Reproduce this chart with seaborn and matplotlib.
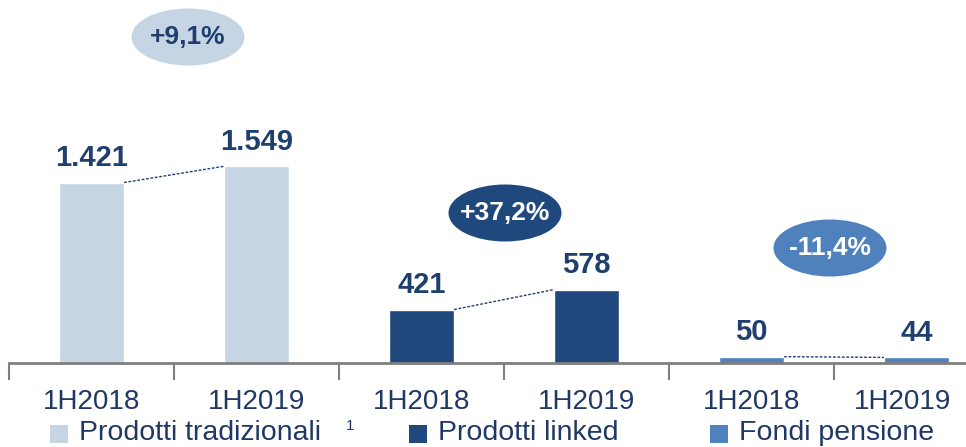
import seaborn as sns
import matplotlib.pyplot as plt
import pandas as pd
from matplotlib.patches import Ellipse, Rectangle
from matplotlib.transforms import ScaledTranslation

# data
groups = ["Prodotti tradizionali", "Prodotti linked", "Fondi pensione"]
periods = ["1H2018", "1H2019"]
tradizionali = [1421, 1549]
linked = [421, 578]
pensione = [50, 44]
value_labels = ["1.421", "1.549", "421", "578", "50", "44"]
changes = ["+9,1%", "+37,2%", "-11,4%"]

colors = ["#C6D5E4", "#1F497D", "#4F81BD"]
navy = "#1F3F6E"

rows = []
for g, vals in zip(groups, [tradizionali, linked, pensione]):
    for p, v in zip(periods, vals):
        rows.append({"slot": len(rows), "group": g, "period": p, "value": v})
df = pd.DataFrame(rows)

sns.set_style("white")
plt.rcParams["font.family"] = ["Liberation Sans", "DejaVu Sans"]

W, H = 966, 447
slot = 165.0
fig = plt.figure(figsize=(W / 100, H / 100), dpi=100)
# axes runs past the right edge like the original slide
ax = fig.add_axes([9 / W, (H - 363) / H, 6 * slot / W, 363 / H])

sns.barplot(data=df, x="slot", y="value", hue="group", dodge=False,
            palette=colors, width=0.395, saturation=1, ax=ax, legend=False)

ax.set_xlim(-0.5, 5.5)
ax.set_ylim(0, 363 / 0.127)
ax.set_xlabel("")
ax.set_ylabel("")
ax.set_yticks([])
for s in ["top", "right", "left"]:
    ax.spines[s].set_visible(False)
ax.spines["bottom"].set_color("#7F7F7F")
ax.spines["bottom"].set_linewidth(2)

ax.set_xticks(range(6))
ax.set_xticklabels(df["period"], fontsize=20, color="#1F3864")
ax.set_xticks([i - 0.5 for i in range(7)], minor=True)
ax.tick_params(axis="x", which="major", length=0, pad=19)
ax.tick_params(axis="x", which="minor", length=12, width=1.5, color="#7F7F7F",
               direction="out", bottom=True)
# last label sits a bit to the left so it fits on the slide
last = ax.get_xticklabels()[-1]
last.set_transform(last.get_transform() + ScaledTranslation(-14 / 100, 0, fig.dpi_scale_trans))

vals = df["value"].tolist()
bw = 0.395 / 2
for i, (v, lab) in enumerate(zip(vals, value_labels)):
    ax.annotate(lab, (i, v), xytext=(0, 12), textcoords="offset points",
                ha="center", va="baseline", fontsize=21, fontweight="bold",
                color=navy)

# dashed connectors between the two periods
for k in range(3):
    a, b = 2 * k, 2 * k + 1
    ax.plot([a + bw, b - bw], [vals[a], vals[b]], ls=(0, (2, 1.2)), lw=1,
            color=navy)

# growth bubbles (figure pixel coords)
bubbles = [(188, 37, colors[0], navy), (505, 213, colors[1], "white"),
           (830, 248, colors[2], "white")]
for (cx, cy, fc, tc), txt in zip(bubbles, changes):
    fig.add_artist(Ellipse((cx / W, 1 - cy / H), 113 / W, 57 / H,
                           transform=fig.transFigure, facecolor=fc,
                           edgecolor="none"))
    fig.text(cx / W, 1 - cy / H, txt, ha="center", va="center", fontsize=19,
             fontweight="bold", color=tc)

# legend drawn as in the slide
legend_x = [50, 409, 710]
for x0, g, c in zip(legend_x, groups, colors):
    fig.add_artist(Rectangle((x0 / W, 1 - 443 / H), 18 / W, 18 / H,
                             transform=fig.transFigure, facecolor=c,
                             edgecolor="none"))
    fig.text((x0 + 29) / W, 1 - 440 / H, g, ha="left", va="baseline",
             fontsize=20.5, color="#1F3864")
fig.text(346 / W, 1 - 426 / H, "1", ha="left", va="center", fontsize=11,
         color="#1F3864")

fig.savefig("out.png", dpi=100, facecolor="white")
